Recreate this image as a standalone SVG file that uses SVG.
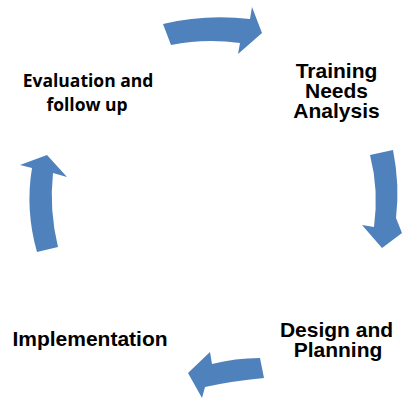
<svg xmlns="http://www.w3.org/2000/svg" width="402" height="399" viewBox="0 0 402 399">
<style>
.arrow{fill:#4F81BD;stroke:none}
.lbl{font-family:"Liberation Sans",Arial,sans-serif;font-weight:bold;font-size:21px;fill:#000;text-anchor:middle}
.lbl2{font-family:"Open Sans","Noto Sans",sans-serif;font-weight:bold;font-size:17.5px;fill:#000;text-anchor:middle}
</style>
<rect width="402" height="399" fill="#fff"/>
<g id="connectors">
<path class="arrow" d="M163,24 Q205,14 250,19 L252,7 L262,33 L238,54 L240,43 Q205,38 171,45 Z"/>
<path class="arrow" d="M370,155 L393,150 Q400,185 396,218 L402,233 L382,248 L362,225 L374,227 Q379,190 370,155 Z"/>
<path class="arrow" d="M260,358 L264,378 Q232,381 205,387 L202,398 L188,373 L210,352 L212,364 Q235,358 260,358 Z"/>
<path class="arrow" d="M37,252 Q25,210 32,168 L20,165 L47,155 L67,177 L53,173 Q49,210 58,247 Z"/>
</g>
<g id="node-tna">
<text class="lbl" x="336.5" y="78">Training</text>
<text class="lbl" x="336.5" y="98">Needs</text>
<text class="lbl" x="336.5" y="118">Analysis</text>
</g>
<g id="node-design">
<text class="lbl" x="336.5" y="337">Design and</text>
<text class="lbl" x="338" y="357">Planning</text>
</g>
<g id="node-impl">
<text class="lbl" x="90" y="346">Implementation</text>
</g>
<g id="node-eval">
<text class="lbl2" x="88" y="87">Evaluation and</text>
<text class="lbl2" x="87" y="111">follow up</text>
</g>
</svg>
